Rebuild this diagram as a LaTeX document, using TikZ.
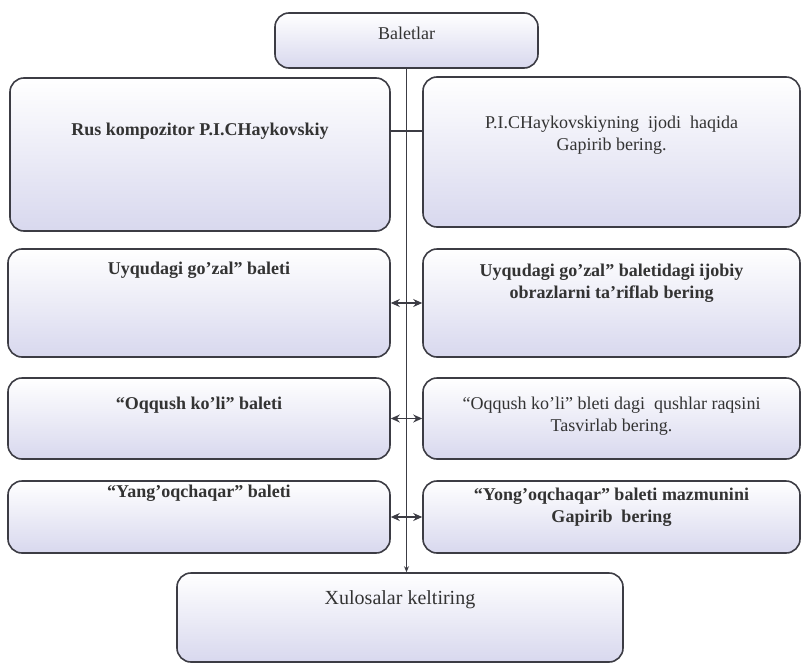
\documentclass[tikz,border=0pt]{standalone}
\usepackage{fontspec}
\setmainfont{Liberation Serif}
\usepackage{tikz}
\usetikzlibrary{positioning,arrows.meta}

\definecolor{boxline}{HTML}{3C3C44}
\definecolor{boxlav}{HTML}{D8D8EE}
\tikzset{
  box/.style={draw=boxline, line width=1.6pt, rounded corners=14pt,
    top color=white, middle color=white, bottom color=boxlav, inner sep=0pt},
  txt/.style={align=center, inner sep=0pt, text=black!80,
    font=\fontsize{18}{22}\selectfont},
  link/.style={draw=boxline, line width=1.2pt},
  tip/.style={{Stealth[length=9pt,width=8pt]}-{Stealth[length=9pt,width=8pt]}}
}

\begin{document}
\begin{tikzpicture}[x=1pt,y=-1pt]
    \useasboundingbox (0,0) rectangle (801,664);

    % top box
    \node[box, minimum width=263pt, minimum height=55pt] (bal) at (406.5,40.5) {};
    \node[txt] (balt) at (406.5,33) {Baletlar};

    % left column
    \node[box, minimum width=380pt, minimum height=153pt] (l1) at (200,154.5) {};
    \node[box, minimum width=382pt, minimum height=108pt] (l2) at (199,303) {};
    \node[box, minimum width=382pt, minimum height=81pt] (l3) at (199,418.5) {};
    \node[box, minimum width=382pt, minimum height=72pt] (l4) at (199,517) {};

    \node[txt, font=\fontsize{18}{22}\selectfont\bfseries] (l1t) at (200,131) {Rus kompozitor P.I.CHaykovskiy};
    \node[txt, font=\fontsize{18}{22}\selectfont\bfseries] (l2t) at (199,270) {Uyqudagi go'zal" baleti};
    \node[txt, font=\fontsize{18}{22}\selectfont\bfseries] (l3t) at (199,405) {``Oqqush ko'li'' baleti};
    \node[txt, font=\fontsize{18}{22}\selectfont\bfseries] (l4t) at (199,493) {``Yang'oqchaqar'' baleti};

    % right column
    \node[box, minimum width=377pt, minimum height=150pt] (r1) at (611.5,152) {};
    \node[box, minimum width=377pt, minimum height=108pt] (r2) at (611.5,303) {};
    \node[box, minimum width=377pt, minimum height=81pt] (r3) at (611.5,418.5) {};
    \node[box, minimum width=377pt, minimum height=72pt] (r4) at (611.5,517) {};

    \node[txt] (r1t) at (611.5,135.5) {P.I.CHaykovskiyning\ \ ijodi\ \ haqida\\Gapirib bering.};
    \node[txt, font=\fontsize{18}{22}\selectfont\bfseries] (r2t) at (611.5,283) {Uyqudagi go'zal" baletidagi ijobiy\\obrazlarni ta'riflab bering};
    \node[txt] (r3t) at (611.5,416.5) {``Oqqush ko'li'' bleti dagi\ \ qushlar raqsini\\Tasvirlab bering.};
    \node[txt, font=\fontsize{18}{22}\selectfont\bfseries] (r4t) at (611.5,507) {``Yong'oqchaqar'' baleti mazmunini\\Gapirib\ \ bering};

    % bottom box
    \node[box, minimum width=446pt, minimum height=89pt] (xul) at (400,617.5) {};
    \node[txt, font=\fontsize{20}{24}\selectfont] (xult) at (400,600) {Xulosalar keltiring};

    % connectors
    \draw[link, -{Stealth[length=6pt,width=5pt]}] (bal.south) -- (bal.south |- xul.north);
    \draw[link] (l1.east |- l1t) -- (r1.west |- l1t);
    \foreach \r in {2,3,4} {
        \draw[link, tip] (l\r.east) -- (r\r.west);
    }
\end{tikzpicture}
\end{document}
